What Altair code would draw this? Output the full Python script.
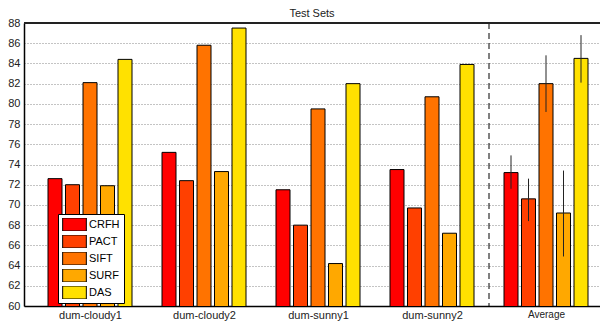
import altair as alt
import pandas as pd

groups = ["dum-cloudy1", "dum-cloudy2", "dum-sunny1", "dum-sunny2", "Average"]
methods = ["CRFH", "PACT", "SIFT", "SURF", "DAS"]
colors = ["#FF0000", "#FF4000", "#FF7300", "#FFA800", "#FFE100"]

crfh = [72.6, 75.2, 71.5, 73.5, 73.2]
pact = [72.0, 72.4, 68.0, 69.7, 70.6]
sift = [82.1, 85.8, 79.5, 80.7, 82.0]
surf = [71.9, 73.3, 64.2, 67.2, 69.2]
das = [84.4, 87.5, 82.0, 83.9, 84.5]

avg_err_low = [71.6, 68.4, 79.2, 64.9, 82.1]
avg_err_high = [74.9, 72.6, 84.8, 73.4, 86.8]

series = [crfh, pact, sift, surf, das]
rows = []
for mi, (m, vals) in enumerate(zip(methods, series)):
    for gi, (g, v) in enumerate(zip(groups, vals)):
        rows.append({"set": g, "gi": gi + 1, "method": m, "mi": mi, "value": v})
df = pd.DataFrame(rows)

err = pd.DataFrame({
    "set": ["Average"] * 5,
    "gi": [5] * 5,
    "method": methods,
    "mi": list(range(5)),
    "lo": avg_err_low,
    "hi": avg_err_high,
})

sep = pd.DataFrame({"boundary": [4.5]})

W, H = 576, 283
FONT = "Liberation Sans"
GROUP_PX = 114.0
BAR_STEP = 17.5 / GROUP_PX

xscale = alt.Scale(domain=[1 - 66 / GROUP_PX, 1 - 66 / GROUP_PX + W / GROUP_PX],
                   nice=False, zero=False, padding=0)
yscale = alt.Scale(domain=[60, 88], nice=False, zero=False, padding=0)

label_expr = "['dum-cloudy1','dum-cloudy2','dum-sunny1','dum-sunny2','Average'][datum.value - 1]"

xaxis = alt.Axis(values=[1, 2, 3, 4, 5], labelExpr=label_expr, labelAngle=0,
                 labelFont=FONT, labelColor="#222222",
                 labelFontSize={"condition": {"test": "datum.value == 5", "value": 10}, "value": 11},
                 ticks=False, grid=False, domainColor="#000000", domainWidth=1.5,
                 labelPadding=3, labelOverlap=False, labelFlush=False, title=None)
yaxis = alt.Axis(values=list(range(60, 89, 2)), labelFont=FONT, labelFontSize=11,
                 labelColor="#222222", ticks=False, labelPadding=4,
                 labelOverlap=False, labelFlush=False,
                 domainColor="#000000", domainWidth=1.5,
                 grid=True, gridColor="#888888", gridDash=[1, 2], gridWidth=1, title=None)

bars = alt.Chart(df).transform_calculate(
    pos=f"datum.gi + (datum.mi - 2) * {BAR_STEP}"
).mark_bar(stroke="#000000", strokeWidth=1, size=14, clip=True).encode(
    x=alt.X("pos:Q", scale=xscale, axis=xaxis),
    y=alt.Y("value:Q", scale=yscale, axis=yaxis),
    color=alt.Color("method:N", sort=methods,
                    scale=alt.Scale(domain=methods, range=colors),
                    legend=alt.Legend(title=None, orient="none", legendX=34, legendY=191,
                                      symbolType="M-1,-0.55H1V0.55H-1Z", symbolSize=560,
                                      symbolStrokeColor="#000000", symbolStrokeWidth=1,
                                      symbolOpacity=1, labelFont=FONT, labelFontSize=11,
                                      labelColor="#000000", labelOffset=2,
                                      clipHeight=13, rowPadding=4,
                                      strokeColor="#000000", fillColor="#FFFFFF",
                                      padding=4, cornerRadius=0)),
)

errbars = alt.Chart(err).transform_calculate(
    pos=f"datum.gi + (datum.mi - 2) * {BAR_STEP}"
).mark_rule(color="#222222", strokeWidth=1).encode(
    x=alt.X("pos:Q", scale=xscale, axis=xaxis),
    y=alt.Y("lo:Q", scale=yscale, axis=yaxis),
    y2="hi:Q",
)

sepline = alt.Chart(sep).mark_rule(color="#000000", strokeWidth=1, strokeDash=[6, 4]).encode(
    x=alt.X("boundary:Q", scale=xscale, axis=xaxis),
)

topline = alt.Chart(sep).mark_rule(color="#222222", strokeWidth=2).encode(
    x=alt.value(0), x2=alt.value(W), y=alt.value(0),
)

chart = alt.layer(bars, errbars, sepline, topline).properties(
    width=W, height=H,
    title=alt.Title("Test Sets", font=FONT, fontSize=11, fontWeight="normal",
                    color="#222222", offset=1, dy=3, anchor="middle"),
    autosize=alt.AutoSizeParams(type="none"),
    padding={"left": 16, "top": 15, "right": 0, "bottom": 15},
).configure_view(stroke=None)

chart.save("out.html", embed_options={"renderer": "svg", "actions": False})
